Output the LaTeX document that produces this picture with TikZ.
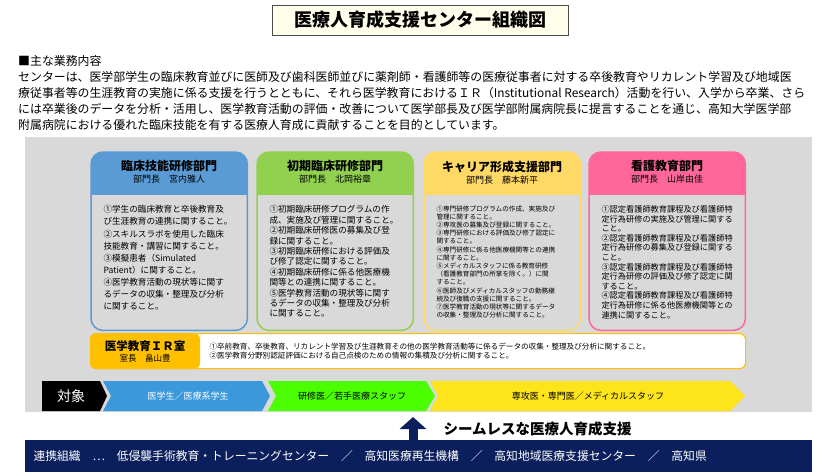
\documentclass[tikz,border=0pt]{standalone}
\usepackage{fontspec}
\setmainfont{Noto Sans CJK JP}
\usetikzlibrary{positioning,arrows.meta}
\definecolor{navy}{HTML}{0B1F5C}
\definecolor{blueh}{HTML}{5B9BD5}
\definecolor{greenh}{HTML}{92D050}
\definecolor{yellowh}{HTML}{FFD966}
\definecolor{pinkh}{HTML}{FF6699}
\definecolor{irorange}{HTML}{FFC000}
\definecolor{panel}{HTML}{D9D9D9}
\newcommand{\dept}[7]{% name, x, colour, title, head, body, font size
  \node[deptbox] (#1) at (#2,152) {};
  \begin{scope}
    \clip[rounded corners=12pt] (#1.south west) rectangle (#1.north east);
    \fill[#3] (#1.north west) rectangle ([yshift=-43pt]#1.north east);
  \end{scope}
  \draw[#3,line width=1.5pt,rounded corners=12pt] (#1.south west) rectangle (#1.north east);
  \node[below=5pt of #1.north,align=center,font=\fontsize{12}{14}\selectfont\bfseries] (#1t)
    {#4\\[-2pt]{\mdseries\fontsize{9}{10}\selectfont #5}};
  \node[anchor=north west,align=left,font=#7] (#1b) at ([xshift=9pt,yshift=-50pt]#1.north west) {#6};
}

\begin{document}
\begin{tikzpicture}[x=1pt,y=-1pt,
    deptbox/.style={anchor=north west,minimum width=156pt,minimum height=178pt,inner sep=0pt},
    chev/.style={font=\fontsize{9}{10}\selectfont}]
  \useasboundingbox (0,0) rectangle (840,472);

  % title and main text
  \node[draw=black!70,fill=yellow!8,minimum width=296pt,minimum height=30pt,
        font=\fontsize{18}{20}\selectfont\bfseries] (title) at (420,20) {医療人育成支援センター組織図};
  \node[anchor=north west,align=left,inner sep=0pt,font=\fontsize{11.9}{16}\selectfont] (intro) at (18,55)
    {■主な業務内容\\
     センターは、医学部学生の臨床教育並びに医師及び歯科医師並びに薬剤師・看護師等の医療従事者に対する卒後教育やリカレント学習及び地域医\\
     療従事者等の生涯教育の実施に係る支援を行うとともに、それら医学教育におけるＩＲ（Institutional Research）活動を行い、入学から卒業、さら\\
     には卒業後のデータを分析・活用し、医学教育活動の評価・改善について医学部長及び医学部附属病院長に提言することを通じ、高知大学医学部\\
     附属病院における優れた臨床技能を有する医療人育成に貢献することを目的としています。};

  \fill[panel] (25,137) rectangle (812,412);

  % departments
  \dept{clin}{91}{blueh}{臨床技能研修部門}{部門長　宮内雅人}
    {①学生の臨床教育と卒後教育及\\び生涯教育の連携に関すること。\\②スキルスラボを使用した臨床\\技能教育・講習に関すること。\\③模擬患者（Simulated\\Patient）に関すること。\\④医学教育活動の現状等に関す\\るデータの収集・整理及び分析\\に関すること。}
    {\fontsize{8.6}{12.1}\selectfont}
  \dept{init}{257}{greenh}{初期臨床研修部門}{部門長　北岡裕章}
    {①初期臨床研修プログラムの作\\成、実施及び管理に関すること。\\②初期臨床研修医の募集及び登\\録に関すること。\\③初期臨床研修における評価及\\び修了認定に関すること。\\④初期臨床研修に係る他医療機\\関等との連携に関すること。\\⑤医学教育活動の現状等に関す\\るデータの収集・整理及び分析\\に関すること。}
    {\fontsize{8.6}{10.4}\selectfont}
  \dept{career}{424}{yellowh}{キャリア形成支援部門}{部門長　藤本新平}
    {①専門研修プログラムの作成、実施及び\\管理に関すること。\\②専攻医の募集及び登録に関すること。\\③専門研修における評価及び修了認定に\\関すること。\\④専門研修に係る他医療機関等との連携\\に関すること。\\⑤メディカルスタッフに係る教育研修\\（看護教育部門の所掌を除く。）に関\\すること。\\⑥医師及びメディカルスタッフの勤務継\\続及び復職の支援に関すること。\\⑦医学教育活動の現状等に関するデータ\\の収集・整理及び分析に関すること。}
    {\fontsize{6.6}{8.2}\selectfont}
  \dept{nurse}{589}{pinkh}{看護教育部門}{部門長　山岸由佳}
    {①認定看護師教育課程及び看護師特\\定行為研修の実施及び管理に関する\\こと。\\②認定看護師教育課程及び看護師特\\定行為研修の募集及び登録に関する\\こと。\\③認定看護師教育課程及び看護師特\\定行為研修の評価及び修了認定に関\\すること。\\④認定看護師教育課程及び看護師特\\定行為研修に係る他医療機関等との\\連携に関すること。}
    {\fontsize{8.2}{9.6}\selectfont}

  % IR office
  \node[anchor=north west,draw=irorange,fill=white,line width=1.2pt,rounded corners=6pt,
        minimum width=655pt,minimum height=35pt,inner sep=0pt] (ir) at (90,333) {};
  \fill[irorange,rounded corners=6pt] (ir.north west) rectangle ([xshift=110pt]ir.south west);
  \node[align=center,font=\fontsize{11.5}{13}\selectfont\bfseries] (irt) at ([xshift=55pt]ir.west)
    {医学教育ＩＲ室\\[-2pt]{\mdseries\fontsize{8.5}{10}\selectfont 室長　畠山豊}};
  \node[anchor=west,align=left,font=\fontsize{7.6}{9.5}\selectfont] (irb) at ([xshift=116pt]ir.west)
    {①卒前教育、卒後教育、リカレント学習及び生涯教育その他の医学教育活動等に係るデータの収集・整理及び分析に関すること。\\
     ②医学教育分野別認証評価における自己点検のための情報の集積及び分析に関すること。};

  % targets
  \fill[black] (42,381) -- (100,381) -- (107,396) -- (100,411) -- (42,411) -- cycle;
  \node[white,font=\fontsize{14}{16}\selectfont] (tgt) at (71,396) {対象};
  \fill[cyan!70!blue!80] (103,381) -- (262,381) -- (270,396) -- (262,411) -- (103,411) -- (111,396) -- cycle;
  \node[chev,white] (stud) at (188,396) {医学生／医療系学生};
  \fill[green!60!lime] (268,381) -- (426,381) -- (435,396) -- (426,411) -- (268,411) -- (276,396) -- cycle;
  \node[chev] (resi) at (352,396) {研修医／若手医療スタッフ};
  \fill[yellow!85!orange!90] (430,381) -- (730,381) -- (745,396) -- (730,411) -- (430,411) -- (438,396) -- cycle;
  \node[chev] (spec) at (588,396) {専攻医・専門医／メディカルスタッフ};

  % partner bar
  \fill[navy] (25,440) rectangle (812,472);
  \node[anchor=west,white,font=\fontsize{11.8}{13}\selectfont] (bar) at (30,456)
    {連携組織　…　低侵襲手術教育・トレーニングセンター　／　高知医療再生機構　／　高知地域医療支援センター　／　高知県};
  \coordinate (up) at (413,417);
  \draw[navy,line width=9pt,-{Triangle[width=26pt,length=12pt]}] (413,441) -- (up);
  \node[anchor=west,font=\fontsize{14.5}{16}\selectfont\bfseries] (seam) at (440,429) {シームレスな医療人育成支援};
\end{tikzpicture}
\end{document}
